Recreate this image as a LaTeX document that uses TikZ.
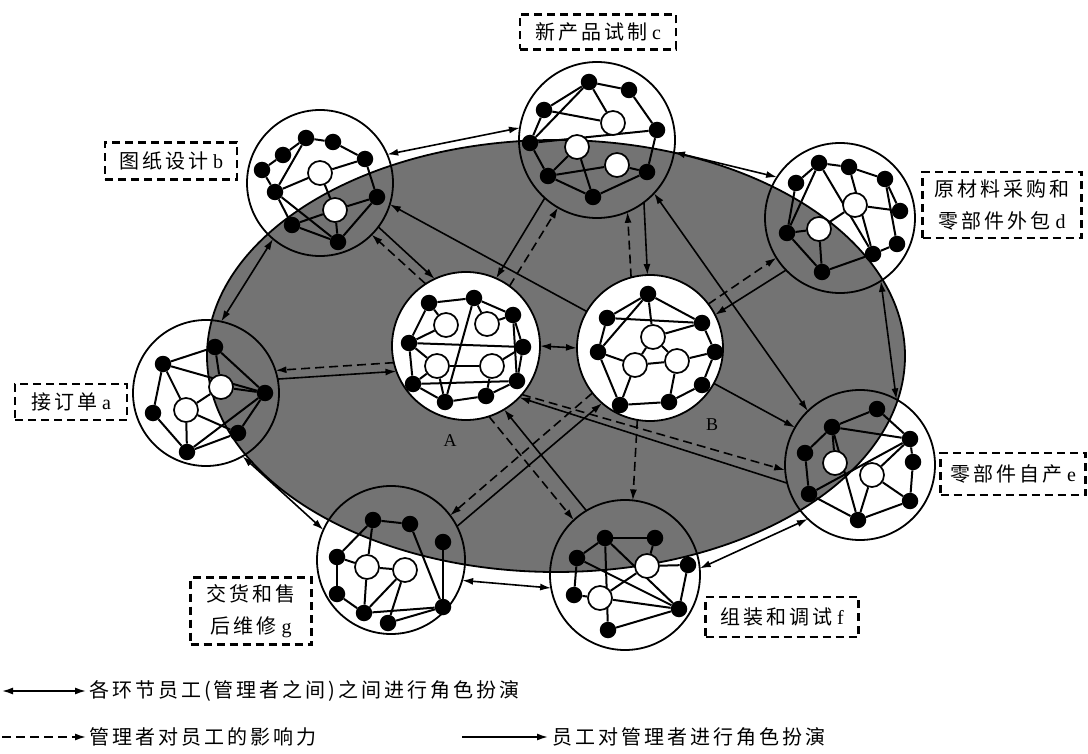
\documentclass[tikz,border=0pt]{standalone}
\usepackage{fontspec}
\setmainfont{Liberation Serif}
\newfontfamily\cjk[LetterSpace=15]{Noto Sans CJK SC}
\usetikzlibrary{arrows.meta}
\definecolor{ellgray}{gray}{0.45}
\newcommand\zh[1]{{\cjk #1}}
\pgfdeclarelayer{back}
\pgfdeclarelayer{edges}
\pgfsetlayers{back,edges,main}
\tikzset{
  stage/.style={circle, draw, line width=1.8pt, inner sep=0pt, outer sep=0pt},
  mgr/.style={stage, fill=white},
  bd/.style={circle, fill=black, inner sep=0pt, minimum size=16.5pt},
  wd/.style={circle, draw, fill=white, line width=1.7pt, inner sep=0pt, minimum size=24pt},
  net/.style={line width=2pt},
  dbl/.style={line width=1.6pt, {Latex[length=11pt,width=7pt]}-{Latex[length=11pt,width=7pt]}},
  inf/.style={line width=1.6pt, dash pattern=on 9pt off 5pt, -{Latex[length=11pt,width=7pt]}},
  rol/.style={line width=1.6pt, -{Latex[length=11pt,width=7pt]}},
  lbl/.style={draw, line width=2.2pt, dash pattern=on 8pt off 5pt, inner sep=3pt, align=center,
              font=\fontsize{20}{32}\selectfont},
  legtext/.style={anchor=west, inner sep=0pt, font=\fontsize{20}{24}\selectfont},
  abl/.style={font=\fontsize{18}{20}\selectfont}
}
\begin{document}
\begin{tikzpicture}[x=1pt,y=-1pt]
\useasboundingbox (0,0) rectangle (1088,754);
\begin{pgfonlayer}{back}
\draw[fill=ellgray, line width=1.8pt] (556,356) ellipse [x radius=349, y radius=216];
\node[stage, minimum size=146pt] (a) at (206,393) {};
\node[stage, minimum size=146pt] (b) at (320,183) {};
\node[stage, minimum size=156pt] (c) at (597,140) {};
\node[stage, minimum size=150pt] (d) at (840,218) {};
\node[stage, minimum size=150pt] (e) at (860,465) {};
\node[stage, minimum size=150pt] (f) at (625,575) {};
\node[stage, minimum size=148pt] (g) at (391,560) {};
\node[mgr, minimum size=148pt] (A) at (466,346) {};
\node[mgr, minimum size=146pt] (B) at (650,348) {};
\end{pgfonlayer}
% black dots
\foreach \n/\x/\y in {b1/306/138,b2/333/142,b3/283/155,b4/365/159,b5/262/170,b6/275/192,b7/377/197,b8/292/225,b9/338/242,
 c1/589/82,c2/629/90,c3/544/110,c4/657/130,c5/530/143,c6/548/176,c7/647/172,c8/593/197,
 d1/819/163,d2/849/167,d3/796/183,d4/885/179,d5/900/211,d6/787/233,d7/897/244,d8/873/254,d9/822/272,
 a1/215/347,a2/163/364,a3/265/393,a4/153/413,a5/238/433,a6/187/452,
 e1/877/409,e2/832/427,e3/910/439,e4/805/453,e5/913/462,e6/809/494,e7/910/501,e8/858/520,
 g1/373/520,g2/410/524,g3/443/542,g4/337/557,g5/337/594,g6/364/613,g7/388/623,g8/443/607,
 f1/605/538,f2/655/538,f3/577/558,f4/688/565,f5/574/595,f6/679/609,f7/608/630,
 A1/429/303,A2/474/298,A3/513/315,A4/409/343,A5/523/347,A6/413/384,A7/517/381,A8/445/402,A9/486/396,
 B1/648/294,B2/607/318,B3/702/323,B4/598/352,B5/715/352,B6/702/385,B7/620/405,B8/669/402}
  \node[bd] (\n) at (\x,\y) {};
% white circles
\foreach \n/\x/\y in {bw1/320/173,bw2/335/210,cw1/613/123,cw2/577/147,cw3/617/165,dw1/855/205,dw2/819/229,
 aw1/221/387,aw2/186/410,ew1/835/463,ew2/872/475,gw1/367/567,gw2/405/570,fw1/647/566,fw2/600/598,
 Aw1/446/325,Aw2/487/324,Aw3/437/366,Aw4/492/366,Bw1/653/337,Bw2/635/365,Bw3/677/361}
  \node[wd] (\n) at (\x,\y) {};
\begin{pgfonlayer}{edges}
\foreach \u/\v in {b5/b3,b3/b1,b1/b2,b2/b4,b1/b6,b5/b6,b6/bw1,bw1/b4,b4/b7,bw1/bw2,b6/b8,b6/b9,b8/b9,bw2/b9,bw2/b7,b8/bw2,b9/b7,
 c3/c1,c1/c2,c1/cw1,c2/c4,c3/cw1,c5/c1,c3/c5,c5/c4,cw2/c6,c5/c6,c6/c8,c8/c7,c7/c4,cw3/c7,c6/cw3,cw2/c8,
 d3/d1,d1/d2,d2/d4,d4/d5,d1/d6,d1/d8,d2/d8,d4/d7,dw1/d5,dw1/dw2,dw2/d6,dw2/d9,d6/d9,d9/d8,d8/d7,d3/d6,
 a2/a1,a1/a3,a2/a3,a1/aw1,a2/a4,a2/aw2,a4/a6,aw2/a6,aw2/aw1,aw2/a5,a6/a5,a6/a3,a5/a3,aw1/a3,
 e2/e1,e1/e3,e2/e3,e2/e4,e2/ew1,e2/e8,e4/e6,e3/ew2,e3/e5,e5/e7,e6/e8,e8/e7,ew2/e8,ew2/e7,e6/e3,
 g1/g2,g1/g4,g1/gw1,g2/g8,g3/g8,g4/gw1,g4/g5,g5/g6,gw1/gw2,gw1/g6,gw2/g7,gw2/g6,g6/g8,g7/g8,
 f1/f2,f1/f3,f1/f6,f1/f7,f2/fw1,fw1/f4,f4/f6,f3/f5,f3/f6,fw1/fw2,fw2/f6,f5/fw2,f7/f6,
 A1/A2,A2/A3,A1/A4,A3/A5,A3/A7,A4/A5,A4/A6,A6/A8,A8/A9,A9/A7,A5/A7,A1/Aw1,A2/Aw2,A2/A8,A4/Aw1,Aw3/Aw4,A4/Aw3,Aw3/A6,Aw3/A8,Aw4/A9,Aw4/A5,Aw2/A3,A6/A7,
 B1/B2,B1/B3,B2/B3,B1/B4,B2/B4,B1/Bw1,B3/B5,B5/B6,B4/Bw2,Bw1/Bw2,Bw1/Bw3,Bw2/Bw3,Bw3/B5,B4/B7,B7/Bw2,B7/B8,B8/B6,Bw3/B8,B3/Bw1}
  \draw[net] (\u) -- (\v);
\end{pgfonlayer}
% connectors between stages
\draw[dbl] (a.78) -- (b.230);
\draw[dbl] (b.23) -- (c.171);
\draw[dbl] (c.351) -- (d.147);
\draw[dbl] (d.303) -- (e.61);
\draw[dbl] (e.226) -- (f.5);
\draw[dbl] (f.190) -- (g.344);
\draw[dbl] (g.156) -- (a.300);
\draw[dbl] (c.317) -- (e.134);
\draw[dbl] (A.0) -- (B.180);
% managers and employees
\draw[inf] (A.193) -- (a.18);
\draw[rol] (a.11) -- (A.200);
\draw[inf] (A.123) -- (b.315);
\draw[rol] (b.323) -- (A.115);
\draw[rol] (B.150) -- (b.343);
\draw[rol] (c.228) -- (A.66);
\draw[inf] (A.54) -- (c.240);
\draw[inf] (B.105) -- (c.293);
\draw[rol] (c.307) -- (B.92);
\draw[inf] (B.37) -- (d.212);
\draw[rol] (d.224) -- (B.27);
\draw[rol] (B.331) -- (e.150);
\draw[rol] (e.194) -- (A.316);
\draw[inf] (A.319) -- (e.184);
\draw[inf] (B.260) -- (f.84);
\draw[inf] (A.288) -- (f.133);
\draw[rol] (f.121) -- (A.301);
\draw[inf] (B.218) -- (g.37);
\draw[rol] (g.27) -- (B.229);
% A, B labels
\node[abl] (lA) at (450,441) {A};
\node[abl] (lB) at (712,425) {B};
% stage labels
\node[lbl, minimum width=156pt, minimum height=35pt] (lc) at (598,32) {\zh{新产品试制} c};
\node[lbl, minimum width=132pt, minimum height=37pt] (lb) at (171,161) {\zh{图纸设计} b};
\node[lbl, minimum width=159pt, minimum height=66pt] (ld) at (1002,205) {\zh{原材料采购和}\\\zh{零部件外包} d};
\node[lbl, minimum width=112pt, minimum height=36pt] (la) at (71,402) {\zh{接订单} a};
\node[lbl, minimum width=145pt, minimum height=42pt] (le) at (1013,474) {\zh{零部件自产} e};
\node[lbl, minimum width=153pt, minimum height=40pt] (lf) at (782,617) {\zh{组装和调试} f};
\node[lbl, minimum width=121pt, minimum height=67pt] (lg) at (251,611) {\zh{交货和售}\\\zh{后维修} g};
% legend
\coordinate (l1s) at (2,691);
\coordinate (l1e) at (86,691);
\coordinate (l2s) at (2,737);
\coordinate (l2e) at (86,737);
\coordinate (l3s) at (462,737);
\coordinate (l3e) at (548,737);
\draw[dbl] (l1s) -- (l1e);
\draw[inf] (l2s) -- (l2e);
\draw[rol] (l3s) -- (l3e);
\node[legtext] (t1) at (89,691) {\zh{各环节员工(管理者之间)之间进行角色扮演}};
\node[legtext] (t2) at (89,737) {\zh{管理者对员工的影响力}};
\node[legtext] (t3) at (552,737) {\zh{员工对管理者进行角色扮演}};
\end{tikzpicture}
\end{document}
